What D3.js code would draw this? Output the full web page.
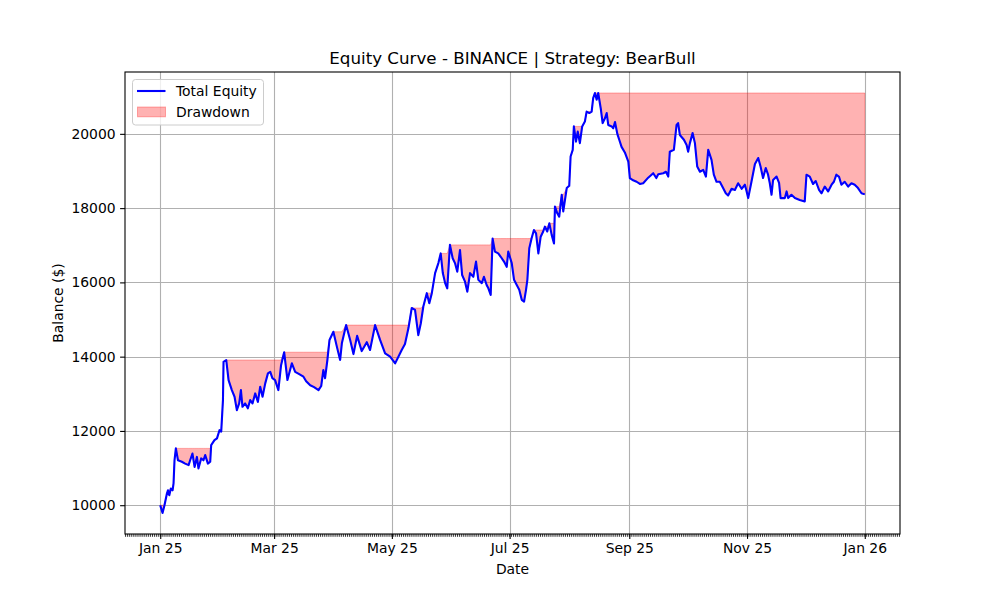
<!DOCTYPE html>
<html>
<head>
<meta charset="utf-8">
<script src="https://cdn.jsdelivr.net/npm/d3@7"></script>
<style>
  body { margin: 0; background: #fff; }
  text { font-family: "DejaVu Sans", sans-serif; }
</style>
</head>
<body>
<svg id="chart"></svg>
<script>
// days since 2025-01-01 and account balance
const days = [0,1.2,2.2,3.5,4.0,4.7,5.5,6.4,6.9,7.4,
  8.1,9.2,11.2,12.9,14.7,15.5,16.7,17.8,19.0,19.8,
  21.2,22.4,23.3,24.7,25.9,26.4,28.1,29.4,30.7,31.6,
  32.5,32.8,34.2,35.4,37.1,38.5,39.7,40.9,41.8,42.6,
  44.0,45.4,46.6,47.8,49.2,50.6,51.8,53.0,54.4,55.8,
  57.0,58.1,59.5,61.2,62.6,64.2,65.9,68.2,69.9,72.0,
  74.2,75.6,77.7,79.7,82.0,83.4,84.5,85.4,86.6,87.7,
  89.7,91.5,93.2,94.1,96.3,98.4,100.1,102.0,104.4,107.0,
  108.7,111.3,113.9,116.5,119.1,121.7,125.1,126.8,128.6,130.3,
  132.0,133.7,135.0,136.3,138.1,139.4,140.7,142.4,144.1,145.3,
  146.4,147.6,148.7,150.1,151.5,152.7,153.9,155.3,156.4,157.9,
  159.1,160.5,162.2,163.6,164.8,166.6,167.7,169.1,170.0,171.2,
  172.2,173.4,175.1,176.4,178.1,179.5,180.3,182.1,183.3,184.7,
  186.0,187.3,188.5,189.5,190.2,191.2,192.4,193.6,194.7,195.9,
  197.1,198.4,199.3,200.5,201.6,202.8,204.0,204.5,205.7,206.7,
  208.0,208.8,210.6,211.9,212.6,213.7,214.3,215.4,216.3,217.4,
  218.6,220.0,220.9,222.3,223.5,224.3,225.2,226.1,226.9,228.2,
  229.2,230.4,231.3,232.1,233.9,234.7,235.6,236.8,237.8,239.0,
  240.7,242.5,243.3,245.0,246.8,248.5,250.2,252.8,255.4,257.0,
  258.0,260.6,262.0,263.2,264.0,266.1,267.5,268.3,269.2,271.3,
  272.7,273.5,274.4,275.8,277.0,278.2,279.6,281.3,282.7,283.9,
  285.6,286.8,288.2,289.9,291.6,293.0,294.2,296.0,297.7,299.4,
  301.2,302.9,303.8,304.6,306.3,308.1,309.8,311.0,312.3,313.7,
  314.9,315.8,316.7,317.5,319.3,320.6,321.4,323.6,324.5,325.3,
  327.0,328.8,331.3,333.9,334.8,336.5,338.2,339.6,341.3,342.6,
  344.3,346.0,347.8,349.0,350.3,351.7,352.9,354.6,356.4,358.1,
  359.8,361.5,363.3,365.0];

const equity = [10000,9790,10000,10320,10400,10270,10450,10400,10590,11210,
  11530,11210,11170,11120,11080,11210,11390,11030,11300,10990,
  11260,11210,11350,11120,11170,11620,11750,11800,12020,11980,
  12830,13860,13910,13370,13100,12920,12560,12740,13100,12650,
  12740,12610,12830,12740,13010,12780,13190,12920,13280,13550,
  13590,13420,13370,13100,13770,14120,13370,13820,13590,13530,
  13460,13340,13230,13180,13100,13210,13640,13420,13910,14450,
  14670,14270,13910,14360,14850,14450,14070,14560,14150,14390,
  14180,14850,14450,14090,14000,13820,14180,14340,14770,15310,
  15260,14580,14900,15350,15710,15440,15710,16250,16520,16780,
  16250,15980,15840,17010,16650,16520,16290,16870,16200,16020,
  15750,16250,16150,16560,16070,15980,16150,15930,15840,15660,
  17180,16830,16780,16690,16560,16420,16830,16520,16070,15930,
  15800,15530,15480,15800,16070,16920,17190,17410,17320,16780,
  17230,17370,17500,17370,17590,17280,17050,18040,17860,17770,
  18360,17910,18540,18600,19390,19570,20200,19790,20060,19750,
  20200,20330,20600,20560,20600,20960,21100,20920,21100,20690,
  20290,20420,20560,20240,20200,20150,20320,20000,19840,19650,
  19500,19250,18810,18750,18710,18650,18670,18820,18940,18810,
  18910,18940,18980,18850,19520,19570,20240,20290,19970,19840,
  19700,19520,19750,20020,19750,19120,18980,19030,18850,19570,
  19300,18900,18710,18710,18540,18400,18340,18520,18490,18670,
  18520,18630,18450,18270,18710,19190,19350,19120,18810,19080,
  18900,18670,18360,18760,18850,18680,18270,18270,18450,18270,
  18360,18270,18220,18180,18900,18850,18650,18730,18490,18400,
  18580,18450,18630,18710,18900,18840,18630,18710,18580,18670,
  18630,18540,18400,18370];

const yTicks = [10000, 12000, 14000, 16000, 18000, 20000];
const seriesNames = ["Total Equity", "Drawdown"];
const chartTitle = "Equity Curve - BINANCE | Strategy: BearBull";

const width = 1000;
const height = 600;
const L = 125, R = 900, T = 72, B = 534;

const start = new Date(2025, 0, 1);
const data = days.map((d, i) => ({ date: new Date(+start + d * 864e5), v: equity[i] }));

// running peak, for the drawdown band
let peak = -Infinity;
data.forEach(p => { peak = Math.max(peak, p.v); p.peak = peak; });

const svg = d3.select("#chart")
  .attr("width", width)
  .attr("height", height);

// matplotlib style 5% margins
const xExt = d3.extent(data, d => +d.date);
const xPad = (xExt[1] - xExt[0]) * 0.05;
const x = d3.scaleTime()
  .domain([new Date(xExt[0] - xPad), new Date(xExt[1] + xPad)])
  .range([L, R]);

const yExt = d3.extent(data, d => d.v);
const yPad = (yExt[1] - yExt[0]) * 0.05;
const y = d3.scaleLinear()
  .domain([yExt[0] - yPad, yExt[1] + yPad])
  .range([B, T]);

const xTicks = d3.timeMonth.every(2).range(x.domain()[0], x.domain()[1]);
const minor = d3.timeDay.range(x.domain()[0], x.domain()[1]);

// grid
const grid = svg.append("g")
  .attr("stroke", "#b0b0b0")
  .attr("stroke-width", 1.1);
grid.selectAll(".gx").data(xTicks).join("line")
  .attr("x1", d => Math.round(x(d)) + 0.5).attr("x2", d => Math.round(x(d)) + 0.5)
  .attr("y1", T).attr("y2", B);
grid.selectAll(".gy").data(yTicks).join("line")
  .attr("y1", d => Math.round(y(d)) + 0.5).attr("y2", d => Math.round(y(d)) + 0.5)
  .attr("x1", L).attr("x2", R);

// drawdown band
const band = d3.area()
  .x(d => x(d.date))
  .y0(d => y(d.peak))
  .y1(d => y(d.v));

svg.append("path")
  .datum(data)
  .attr("d", band)
  .attr("fill", "red")
  .attr("fill-opacity", 0.3)
  .attr("stroke", "red")
  .attr("stroke-opacity", 0.3)
  .attr("stroke-width", 1);

// equity line
const line = d3.line()
  .x(d => x(d.date))
  .y(d => y(d.v));

svg.append("path")
  .datum(data)
  .attr("d", line)
  .attr("fill", "none")
  .attr("stroke", "#0000ff")
  .attr("stroke-width", 2.1)
  .attr("stroke-linejoin", "round");

// axes
const xAxis = svg.append("g")
  .attr("transform", `translate(0,${B})`)
  .call(d3.axisBottom(x).tickValues(xTicks).tickFormat(d3.timeFormat("%b %y"))
    .tickSize(4.9).tickPadding(4.5));

svg.append("g")
  .attr("transform", `translate(0,${B})`)
  .selectAll("line").data(minor).join("line")
  .attr("x1", d => x(d)).attr("x2", d => x(d))
  .attr("y1", 0).attr("y2", 2.8)
  .attr("stroke", "#000").attr("stroke-width", 0.8);

const yAxis = svg.append("g")
  .attr("transform", `translate(${L},0)`)
  .call(d3.axisLeft(y).tickValues(yTicks).tickFormat(d3.format("d"))
    .tickSize(4.9).tickPadding(4.5));

[xAxis, yAxis].forEach(g => {
  g.select(".domain").remove();
  g.selectAll(".tick line").attr("stroke", "#000").attr("stroke-width", 1.1);
  g.selectAll(".tick text")
    .attr("fill", "#000")
    .style("font-size", "13.9px")
    .style("font-family", "DejaVu Sans");
});

// spines
svg.append("rect")
  .attr("x", L).attr("y", T)
  .attr("width", R - L).attr("height", B - T)
  .attr("fill", "none")
  .attr("stroke", "#000")
  .attr("stroke-width", 1.1);

// labels
svg.append("text")
  .attr("x", (L + R) / 2).attr("y", 64)
  .attr("text-anchor", "middle")
  .style("font-size", "16.7px")
  .text(chartTitle);

svg.append("text")
  .attr("x", (L + R) / 2).attr("y", 574)
  .attr("text-anchor", "middle")
  .style("font-size", "13.9px")
  .text("Date");

svg.append("text")
  .attr("transform", `translate(63,${(T + B) / 2}) rotate(-90)`)
  .attr("text-anchor", "middle")
  .style("font-size", "13.9px")
  .text("Balance ($)");

// legend
const lg = svg.append("g");
lg.append("rect")
  .attr("x", 132.5).attr("y", 79.5)
  .attr("width", 131).attr("height", 45.5)
  .attr("rx", 3)
  .attr("fill", "#fff").attr("fill-opacity", 0.8)
  .attr("stroke", "#cccccc").attr("stroke-width", 1);

lg.append("line")
  .attr("x1", 137).attr("x2", 165.5)
  .attr("y1", 91).attr("y2", 91)
  .attr("stroke", "#0000ff").attr("stroke-width", 2.1);

lg.append("rect")
  .attr("x", 137.5).attr("y", 107)
  .attr("width", 28).attr("height", 9.8)
  .attr("fill", "red").attr("fill-opacity", 0.3)
  .attr("stroke", "red").attr("stroke-opacity", 0.3);

lg.selectAll(".lt").data(seriesNames).join("text")
  .attr("x", 176)
  .attr("y", (d, i) => 96 + i * 20.5)
  .style("font-size", "13.9px")
  .text(d => d);
</script>
</body>
</html>
